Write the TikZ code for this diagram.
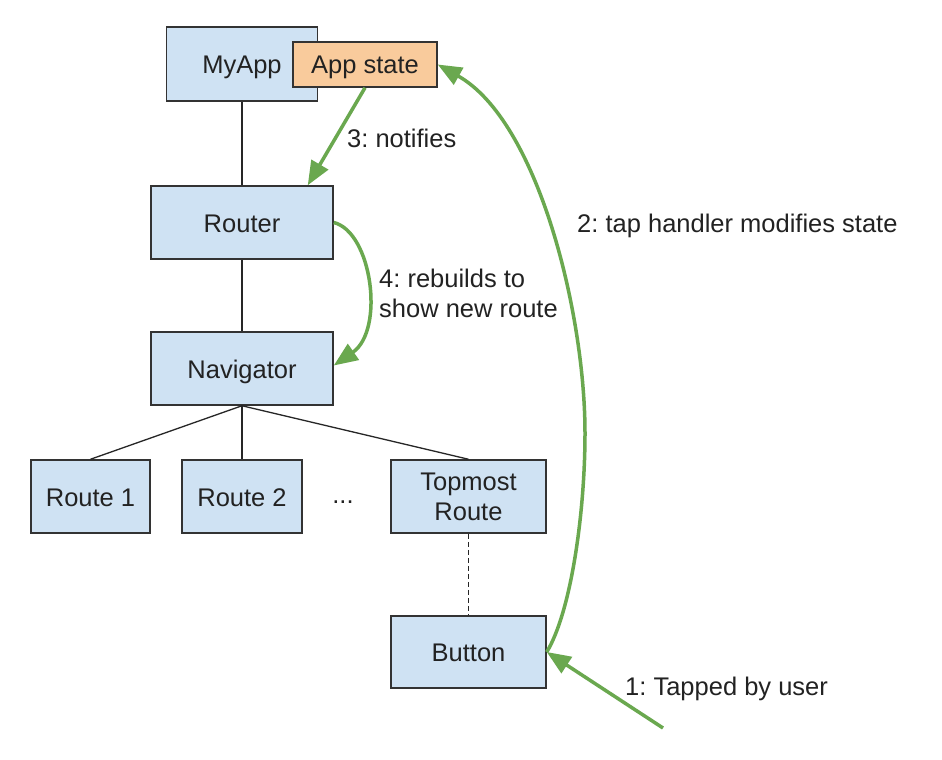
\documentclass[tikz,border=0pt]{standalone}
\usepackage{fontspec}
\setmainfont{Liberation Sans}
\usetikzlibrary{arrows.meta}
\definecolor{boxblue}{HTML}{CFE2F3}
\definecolor{boxorange}{HTML}{F9CB9C}
\definecolor{arrgreen}{HTML}{6AA84F}
\definecolor{edgegray}{HTML}{333333}
\definecolor{txt}{HTML}{222222}
\frenchspacing
\begin{document}
\begin{tikzpicture}[x=1pt,y=-1pt,
  font=\fontsize{25.5}{30}\selectfont\frenchspacing,
  box/.style={draw=edgegray, line width=1.5pt, fill=boxblue, rectangle, inner sep=0pt, align=center, text=txt},
  oneline/.style={text height=19pt, text depth=0pt},
  link/.style={draw=black!85, line width=1.3pt},
  greenarrow/.style={draw=arrgreen, line width=3.5pt, -{Triangle[length=24pt,width=19pt]}},
  lbl/.style={anchor=west, inner sep=0pt, align=left, text=txt}]
\useasboundingbox[fill=white] (0,0) rectangle (942,760);

\node[box, oneline, minimum width=151pt, minimum height=74pt] (myapp) at (242,64) {MyApp};
\node[box, oneline, fill=boxorange, minimum width=144pt, minimum height=45pt] (appstate) at (365,64.5) {App state};
\node[box, oneline, minimum width=182pt, minimum height=73pt] (router) at (242,222.5) {Router};
\node[box, oneline, minimum width=182pt, minimum height=73pt] (navigator) at (242,368.5) {Navigator};
\node[box, oneline, minimum width=119pt, minimum height=73pt] (route1) at (90.5,496.5) {Route 1};
\node[box, oneline, minimum width=120pt, minimum height=73pt] (route2) at (242,496.5) {Route 2};
\node[box, minimum width=155pt, minimum height=73pt] (topmost) at (468.5,496.5) {Topmost\\Route};
\node[box, oneline, minimum width=155pt, minimum height=72pt] (button) at (468.5,652) {Button};
\node[inner sep=0pt, text=txt] (dots) at (343,502) {...};

\draw[link] (myapp.south) -- (router.north);
\draw[link] (router.south) -- (navigator.north);
\draw[link] (navigator.south) -- (route1.north);
\draw[link] (navigator.south) -- (route2.north);
\draw[link] (navigator.south) -- (topmost.north);
\draw[link, dash pattern=on 5pt off 3pt] (topmost.south) -- (button.north);

\draw[greenarrow] (appstate.south) -- ([xshift=-26pt]router.north east);
\draw[greenarrow] (router.east) .. controls (372,232) and (385,330) .. ([yshift=3pt]navigator.east);
\draw[greenarrow] (button.east) .. controls (571,612) and (585,513) .. (585,433)
   .. controls (585,313) and (538,121) .. (appstate.east);
\coordinate (tapstart) at (663,728);
\draw[greenarrow] (tapstart) -- (button.east);

\node[lbl] (l3) at (347,138) {3: notifies};
\node[lbl] (l2) at (577,226) {2: tap handler modifies state};
\node[lbl] (l4) at (379,293) {4: rebuilds to\\show new route};
\node[lbl] (l1) at (625,689) {1: Tapped by user};
\end{tikzpicture}
\end{document}
